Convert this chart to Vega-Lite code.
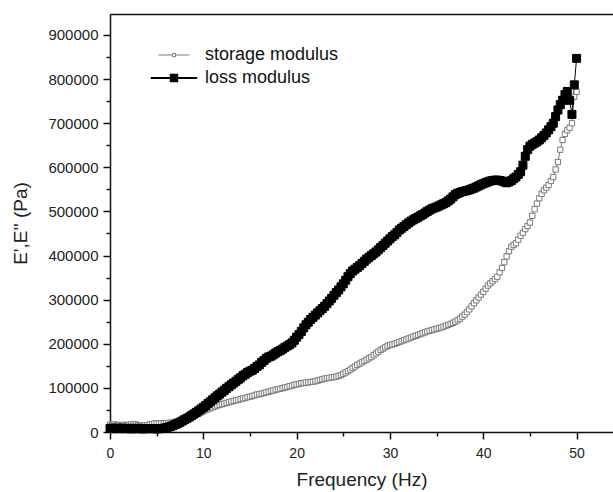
{
  "$schema": "https://vega.github.io/schema/vega-lite/v6.json",
  "width": 503,
  "height": 418,
  "autosize": {"type": "none"},
  "padding": {"left": 110, "top": 14, "right": 0, "bottom": 60},
  "background": "white",
  "config": {"view": {"stroke": null}, "font": "Liberation Sans"},
  "data": {"values": [
    {"f":0,"S":17000,"L":8000},{"f":0.25,"S":16000,"L":9000},{"f":0.5,"S":17000,"L":7500},{"f":0.75,"S":15500,"L":8500},
    {"f":1,"S":16000,"L":8000},{"f":1.25,"S":15000,"L":9000},{"f":1.5,"S":16500,"L":7500},{"f":1.75,"S":15500,"L":8000},
    {"f":2,"S":16000,"L":8500},{"f":2.25,"S":17000,"L":7000},{"f":2.5,"S":18000,"L":8000},{"f":2.75,"S":17000,"L":8500},
    {"f":3,"S":15500,"L":7500},{"f":3.25,"S":14500,"L":8000},{"f":3.5,"S":14000,"L":7000},{"f":3.75,"S":15000,"L":8000},
    {"f":4,"S":15500,"L":7500},{"f":4.25,"S":17000,"L":8000},{"f":4.5,"S":18000,"L":7500},{"f":4.75,"S":19000,"L":8000},
    {"f":5,"S":19500,"L":7000},{"f":5.25,"S":19000,"L":7500},{"f":5.5,"S":20000,"L":8000},{"f":5.75,"S":19500,"L":8500},
    {"f":6,"S":20000,"L":9500},{"f":6.25,"S":20500,"L":11000},{"f":6.5,"S":21000,"L":12500},{"f":6.75,"S":22000,"L":14500},
    {"f":7,"S":23000,"L":17000},{"f":7.25,"S":24000,"L":19500},{"f":7.5,"S":26000,"L":22000},{"f":7.75,"S":27500,"L":25000},
    {"f":8,"S":29000,"L":28000},{"f":8.25,"S":31000,"L":31000},{"f":8.5,"S":33000,"L":34000},{"f":8.75,"S":35000,"L":37500},
    {"f":9,"S":37000,"L":41000},{"f":9.25,"S":39500,"L":44500},{"f":9.5,"S":42000,"L":48000},{"f":9.75,"S":44500,"L":52000},
    {"f":10,"S":47000,"L":56000},{"f":10.25,"S":49500,"L":60000},{"f":10.5,"S":52000,"L":64500},{"f":10.75,"S":54000,"L":68500},
    {"f":11,"S":56000,"L":73000},{"f":11.25,"S":58000,"L":77500},{"f":11.5,"S":60000,"L":82000},{"f":11.75,"S":61500,"L":86000},
    {"f":12,"S":63000,"L":90500},{"f":12.25,"S":64500,"L":94500},{"f":12.5,"S":66000,"L":99000},{"f":12.75,"S":67500,"L":103000},
    {"f":13,"S":69000,"L":107000},{"f":13.25,"S":70500,"L":111000},{"f":13.5,"S":72000,"L":115000},{"f":13.75,"S":73000,"L":119500},
    {"f":14,"S":74500,"L":123000},{"f":14.25,"S":76000,"L":127500},{"f":14.5,"S":77000,"L":131000},{"f":14.75,"S":79000,"L":135000},
    {"f":15,"S":80000,"L":138000},{"f":15.25,"S":81500,"L":140000},{"f":15.5,"S":83000,"L":144000},{"f":15.75,"S":85000,"L":148500},
    {"f":16,"S":86000,"L":152000},{"f":16.25,"S":87000,"L":158000},{"f":16.5,"S":88500,"L":162000},{"f":16.75,"S":90000,"L":167000},
    {"f":17,"S":91000,"L":170000},{"f":17.25,"S":93000,"L":172000},{"f":17.5,"S":94000,"L":175000},{"f":17.75,"S":96000,"L":179000},
    {"f":18,"S":97000,"L":182000},{"f":18.25,"S":98000,"L":185000},{"f":18.5,"S":99500,"L":188000},{"f":18.75,"S":101000,"L":192000},
    {"f":19,"S":102000,"L":195000},{"f":19.25,"S":104000,"L":198000},{"f":19.5,"S":105000,"L":202000},{"f":19.75,"S":107000,"L":208000},
    {"f":20,"S":108000,"L":215000},{"f":20.25,"S":109000,"L":221000},{"f":20.5,"S":110500,"L":228000},{"f":20.75,"S":111000,"L":236000},
    {"f":21,"S":112000,"L":243000},{"f":21.25,"S":112500,"L":249000},{"f":21.5,"S":113500,"L":255000},{"f":21.75,"S":114000,"L":260000},
    {"f":22,"S":115000,"L":265000},{"f":22.25,"S":116500,"L":270000},{"f":22.5,"S":118000,"L":275000},{"f":22.75,"S":119500,"L":280000},
    {"f":23,"S":121000,"L":285000},{"f":23.25,"S":122000,"L":291000},{"f":23.5,"S":123000,"L":297000},{"f":23.75,"S":123500,"L":303000},
    {"f":24,"S":124500,"L":310000},{"f":24.25,"S":125500,"L":316000},{"f":24.5,"S":127000,"L":322000},{"f":24.75,"S":129000,"L":329000},
    {"f":25,"S":132000,"L":336000},{"f":25.25,"S":135000,"L":344000},{"f":25.5,"S":138000,"L":352000},{"f":25.75,"S":141500,"L":359000},
    {"f":26,"S":145000,"L":365000},{"f":26.25,"S":148500,"L":369000},{"f":26.5,"S":152000,"L":373000},{"f":26.75,"S":155000,"L":377000},
    {"f":27,"S":158000,"L":382000},{"f":27.25,"S":161000,"L":387000},{"f":27.5,"S":164000,"L":392000},{"f":27.75,"S":167000,"L":396000},
    {"f":28,"S":170000,"L":400000},{"f":28.25,"S":174000,"L":404000},{"f":28.5,"S":178000,"L":408000},{"f":28.75,"S":182000,"L":413000},
    {"f":29,"S":186000,"L":418000},{"f":29.25,"S":189000,"L":423000},{"f":29.5,"S":192000,"L":428000},{"f":29.75,"S":195000,"L":433000},
    {"f":30,"S":197000,"L":438000},{"f":30.25,"S":198500,"L":443000},{"f":30.5,"S":200000,"L":447000},{"f":30.75,"S":202000,"L":452000},
    {"f":31,"S":204000,"L":458000},{"f":31.25,"S":206000,"L":462000},{"f":31.5,"S":208000,"L":466000},{"f":31.75,"S":210000,"L":470000},
    {"f":32,"S":212000,"L":474000},{"f":32.25,"S":214000,"L":478000},{"f":32.5,"S":216000,"L":481000},{"f":32.75,"S":218000,"L":484000},
    {"f":33,"S":220000,"L":487000},{"f":33.25,"S":222000,"L":490000},{"f":33.5,"S":224000,"L":493000},{"f":33.75,"S":226000,"L":496500},
    {"f":34,"S":228000,"L":500000},{"f":34.25,"S":229500,"L":503000},{"f":34.5,"S":231000,"L":506000},{"f":34.75,"S":232500,"L":508000},
    {"f":35,"S":234000,"L":510000},{"f":35.25,"S":235500,"L":512500},{"f":35.5,"S":237000,"L":515000},{"f":35.75,"S":239000,"L":517500},
    {"f":36,"S":241000,"L":520000},{"f":36.25,"S":243000,"L":524000},{"f":36.5,"S":245000,"L":528000},{"f":36.75,"S":247500,"L":533000},
    {"f":37,"S":250000,"L":538000},{"f":37.25,"S":253500,"L":541000},{"f":37.5,"S":257000,"L":543000},{"f":37.75,"S":261500,"L":545000},
    {"f":38,"S":266000,"L":546000},{"f":38.25,"S":272000,"L":547500},{"f":38.5,"S":278000,"L":549000},{"f":38.75,"S":285000,"L":551000},
    {"f":39,"S":292000,"L":553000},{"f":39.25,"S":298500,"L":555500},{"f":39.5,"S":305000,"L":558000},{"f":39.75,"S":311500,"L":560500},
    {"f":40,"S":318000,"L":563000},{"f":40.25,"S":325000,"L":565000},{"f":40.5,"S":332000,"L":567000},{"f":40.75,"S":337000,"L":569000},
    {"f":41,"S":342000,"L":570000},{"f":41.25,"S":347000,"L":571000},{"f":41.5,"S":352000,"L":571000},{"f":41.75,"S":362000,"L":570000},
    {"f":42,"S":372000,"L":569000},{"f":42.25,"S":385000,"L":567000},{"f":42.5,"S":398000,"L":565000},{"f":42.75,"S":410000,"L":567000},
    {"f":43,"S":420000,"L":570000},{"f":43.25,"S":424000,"L":574000},{"f":43.5,"S":428000,"L":578000},{"f":43.75,"S":436000,"L":584000},
    {"f":44,"S":445000,"L":590000},{"f":44.25,"S":452000,"L":605000},{"f":44.5,"S":460000,"L":625000},{"f":44.75,"S":467000,"L":640000},
    {"f":45,"S":475000,"L":648000},{"f":45.25,"S":490000,"L":652000},{"f":45.5,"S":505000,"L":655000},{"f":45.75,"S":518000,"L":658000},
    {"f":46,"S":530000,"L":662000},{"f":46.25,"S":540000,"L":667000},{"f":46.5,"S":548000,"L":672000},{"f":46.75,"S":554000,"L":678000},
    {"f":47,"S":560000,"L":685000},{"f":47.25,"S":569000,"L":692000},{"f":47.5,"S":578000,"L":700000},{"f":47.75,"S":595000,"L":715000},
    {"f":48,"S":612000,"L":730000},{"f":48.25,"S":640000,"L":742000},{"f":48.5,"S":662000,"L":752000},{"f":48.75,"S":676000,"L":765000},
    {"f":49,"S":684000,"L":772000},{"f":49.25,"S":690000,"L":752000},{"f":49.5,"S":700000,"L":720000},{"f":49.75,"S":760000,"L":787000},
    {"f":50,"S":771000,"L":847000}
  ]},
  "transform": [{"fold": ["S", "L"], "as": ["k", "v"]}],
  "encoding": {
    "y": {
      "field": "v", "type": "quantitative",
      "scale": {"domain": [0, 947600], "nice": false},
      "axis": {
        "values": [0,50000,100000,150000,200000,250000,300000,350000,400000,450000,500000,550000,600000,650000,700000,750000,800000,850000,900000],
        "labelExpr": "datum.value % 100000 === 0 ? format(datum.value, 'd') : ''",
        "tickSize": {"condition": {"test": "datum.value % 100000 === 0", "value": 7}, "value": 4},
        "grid": false, "domainWidth": 1.5, "domainColor": "#111", "tickColor": "#111", "tickWidth": 1.5,
        "labelFontSize": 15, "labelColor": "#222", "labelPadding": 5, "labelFont": "Liberation Sans",
        "title": "E',E'' (Pa)", "titleFontSize": 19, "titleFontWeight": "normal", "titleColor": "#222", "titleFont": "Liberation Sans", "titlePadding": 17
      }
    }
  },
  "layer": [
    {
      "mark": {"type": "line", "strokeWidth": 1},
      "encoding": {
        "x": {
          "field": "f", "type": "quantitative",
          "scale": {"domain": [0, 53.9], "nice": false, "zero": false},
          "axis": {
            "orient": "bottom",
            "values": [0,5,10,15,20,25,30,35,40,45,50],
            "labelExpr": "datum.value % 10 === 0 ? datum.label : ''",
            "tickSize": {"condition": {"test": "datum.value % 10 === 0", "value": 7}, "value": 4},
            "grid": false, "domainWidth": 1.5, "domainColor": "#111", "tickColor": "#111", "tickWidth": 1.5,
            "labelFontSize": 14, "labelColor": "#222", "labelPadding": 7, "labelFont": "Liberation Sans", "labelFlush": false,
            "title": "Frequency (Hz)", "titleFontSize": 19, "titleFontWeight": "normal", "titleColor": "#222", "titleFont": "Liberation Sans", "titlePadding": 10
          }
        },
        "stroke": {
          "field": "k", "type": "nominal",
          "scale": {"domain": ["S", "L"], "range": ["#7a7a7a", "#000000"]},
          "legend": {
            "title": null, "orient": "none", "legendX": 55, "legendY": 32, "padding": 0,
            "symbolSize": 100, "labelFontSize": 18, "labelFont": "Liberation Sans", "labelColor": "#111",
            "labelOffset": 22, "rowPadding": 5,
            "labelExpr": "datum.value == 'S' ? 'storage modulus' : 'loss modulus'",
            "symbolType": "M-5.8,0H-0.8M0.8,0H5.8M-0.8,-0.8H0.8V0.8H-0.8Z",
            "encode": {"symbols": {"update": {
              "shape": {"signal": "datum.value == 'S' ? 'M-5.8,0H-0.6M0.6,0H5.8M-0.6,-0.6H0.6V0.6H-0.6Z' : 'M-5.8,0H-0.8M0.8,0H5.8M-0.8,-0.8H0.8V0.8H-0.8Z'"},
              "strokeWidth": {"signal": "datum.value == 'S' ? 1 : 2"},
              "fill": {"signal": "datum.value == 'S' ? '#ffffff' : '#000000'"},
              "stroke": {"signal": "datum.value == 'S' ? '#7a7a7a' : '#000000'"}
            }}}
          }
        }
      }
    },
    {
      "mark": {"type": "point", "shape": "square", "filled": true, "strokeWidth": 1, "opacity": 1},
      "encoding": {
        "x": {
          "field": "f", "type": "quantitative",
          "scale": {"domain": [0, 53.9], "nice": false, "zero": false},
          "axis": {"orient": "top", "labels": false, "ticks": false, "title": null, "grid": false, "domain": true, "domainWidth": 1.5, "domainColor": "#111"}
        },
        "fill": {
          "field": "k", "type": "nominal",
          "scale": {"domain": ["S", "L"], "range": ["#ffffff", "#000000"]},
          "legend": null
        },
        "stroke": {"field": "k", "type": "nominal"},
        "size": {
          "field": "k", "type": "nominal",
          "scale": {"domain": ["S", "L"], "range": [28, 64]},
          "legend": null
        },
        "order": {"field": "k", "sort": "descending"}
      }
    }
  ],
  "resolve": {"axis": {"x": "independent"}}
}
